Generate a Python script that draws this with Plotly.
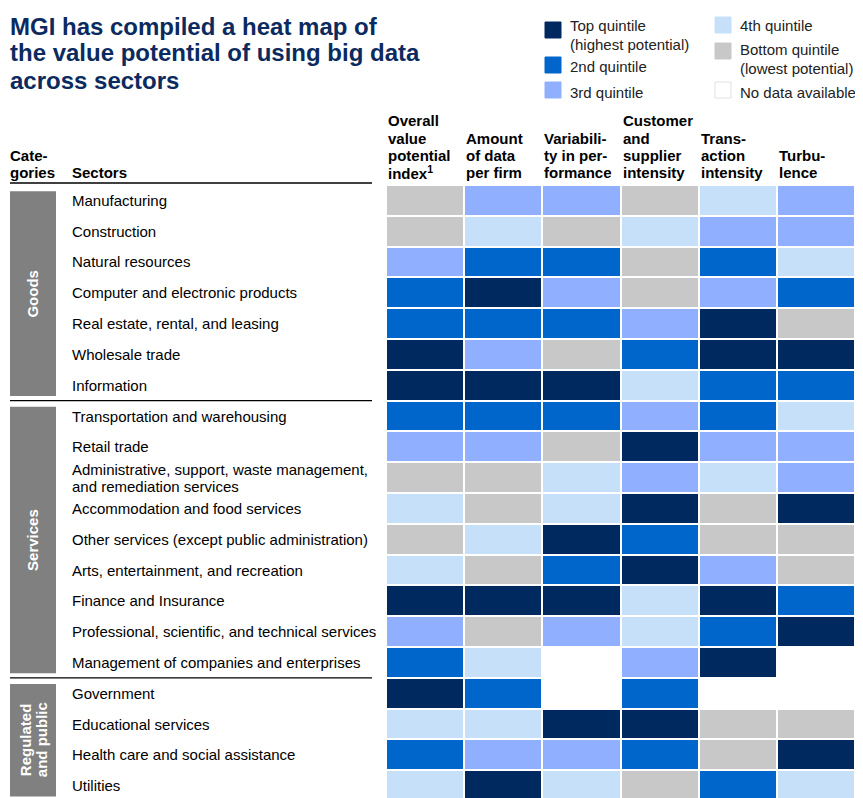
import plotly.graph_objects as go

# page is 863x798 but the browser body adds an 8px margin, so the figure is drawn 8px in;
# only x up to ~855 is visible, so the right edge is kept inside that
W, H = 847, 790
OFF = 8

sectors = [
    "Manufacturing", "Construction", "Natural resources",
    "Computer and electronic products", "Real estate, rental, and leasing",
    "Wholesale trade", "Information",
    "Transportation and warehousing", "Retail trade",
    "Administrative, support, waste management,<br>and remediation services",
    "Accommodation and food services",
    "Other services (except public administration)",
    "Arts, entertainment, and recreation", "Finance and Insurance",
    "Professional, scientific, and technical services",
    "Management of companies and enterprises",
    "Government", "Educational services",
    "Health care and social assistance", "Utilities",
]
categories = ["Goods", "Services", "Regulated<br>and public"]
category_sizes = [7, 9, 4]

columns = [
    "Overall value potential index", "Amount of data per firm",
    "Variability in performance", "Customer and supplier intensity",
    "Transaction intensity", "Turbulence",
]
column_headers = [
    "Overall<br>value<br>potential<br>index<sup style='font-size:9px'>1</sup>",
    "Amount<br>of data<br>per firm",
    "Variabili-<br>ty in per-<br>formance",
    "Customer<br>and<br>supplier<br>intensity",
    "Trans-<br>action<br>intensity",
    "Turbu-<br>lence",
]

# quintile per sector: 1 = top ... 5 = bottom, None = no data
overall_index = [5, 5, 3, 2, 2, 1, 1, 2, 3, 5, 4, 5, 4, 1, 3, 2, 1, 4, 2, 4]
data_per_firm = [3, 4, 2, 1, 2, 3, 1, 2, 3, 5, 5, 4, 5, 1, 5, 4, 2, 4, 3, 1]
variability = [3, 5, 2, 3, 2, 5, 1, 2, 5, 4, 4, 1, 2, 1, 3, None, None, 1, 3, 4]
customer_supplier = [5, 4, 5, 5, 3, 2, 4, 3, 1, 3, 1, 2, 1, 4, 4, 3, 2, 1, 2, 5]
transaction = [4, 3, 2, 3, 1, 1, 2, 2, 3, 4, 5, 5, 3, 1, 2, 1, None, 5, 5, 2]
turbulence = [3, 3, 4, 2, 5, 1, 2, 4, 3, 3, 1, 5, 5, 2, 1, None, None, 5, 1, 4]

quintile_labels = ["Top quintile<br>(highest potential)", "2nd quintile", "3rd quintile",
                   "4th quintile", "Bottom quintile<br>(lowest potential)", "No data available"]
quintile_colors = ["#002960", "#0066CC", "#91AFFF", "#C6E0FA", "#C8C8C8", "#FFFFFF"]

title_lines = ["MGI has compiled a heat map of",
               "the value potential of using big data",
               "across sectors"]

NAVY = "#0B2A5E"
FONT = "Liberation Sans, Arial, sans-serif"
ROW_PX = 30.8


def px(x):
    return (x - OFF) / W


def py(y):
    return 1 - (y - OFF) / H


z = [list(r) for r in zip(overall_index, data_per_firm, variability,
                          customer_supplier, transaction, turbulence)]

colorscale = []
edges = [0, 0.125, 0.375, 0.625, 0.875, 1]
for i in range(5):
    colorscale.append([edges[i], quintile_colors[i]])
    colorscale.append([edges[i + 1], quintile_colors[i]])

fig = go.Figure(go.Heatmap(
    z=z, x=columns, y=sectors,
    zmin=1, zmax=5, colorscale=colorscale, showscale=False,
    xgap=2, ygap=2, hoverinfo="skip",
))

annotations = []
shapes = []


def text(x, y, s, size=15, color="#000", xref="paper", yref="paper", **kw):
    d = dict(xref=xref, yref=yref, x=x, y=y, text=s, xanchor="left", yanchor="middle",
             align="left", showarrow=False, font=dict(size=size, color=color, family=FONT))
    d.update(kw)
    annotations.append(d)


# title, one line at a time for tight spacing
for k, line in enumerate(title_lines):
    text(px(8), py(26 + 27 * k), "<b>%s</b>" % line, size=24, color=NAVY)

# sector labels (two-line label gets its own line spacing)
for i, s in enumerate(sectors):
    parts = s.split("<br>")
    for k, p in enumerate(parts):
        text(px(70), i + (k - (len(parts) - 1) / 2) * 0.55, p, yref="y")

# column headers, bottom-aligned
for j, h in enumerate(column_headers):
    parts = h.split("<br>")
    for k, p in enumerate(reversed(parts)):
        text(j - 0.5, py(172 - 17 * k), "<b>%s</b>" % p, xref="x")

text(px(8), py(155), "<b>Cate-</b>")
text(px(8), py(172), "<b>gories</b>")
text(px(70), py(172), "<b>Sectors</b>")

# header rule
shapes.append(dict(type="line", xref="paper", yref="paper", x0=px(10), x1=px(372),
                   y0=py(183), y1=py(183), line=dict(color="#000", width=1.3)))

# category boxes + separators
start = 0
for k, (cat, n) in enumerate(zip(categories, category_sizes)):
    top = start - 0.5 + 0.2
    bot = start + n - 0.5 - 0.15
    shapes.append(dict(type="rect", xref="paper", yref="y", x0=px(10), x1=px(56),
                       y0=top, y1=bot, fillcolor="#808080", line=dict(width=0), layer="below"))
    mid = (top + min(bot, 19.4)) / 2
    parts = cat.split("<br>")
    for m, p in enumerate(parts):
        xc = 33 + (m - (len(parts) - 1) / 2) * 16
        annotations.append(dict(xref="paper", yref="y", x=px(xc), y=mid,
                                text="<b>%s</b>" % p, textangle=-90, showarrow=False,
                                xanchor="center", yanchor="middle",
                                font=dict(size=15, color="white", family=FONT)))
    if k > 0:
        shapes.append(dict(type="line", xref="paper", yref="y", x0=px(10), x1=px(372),
                           y0=start - 0.5, y1=start - 0.5, line=dict(color="#000", width=1.3)))
    start += n

# legend
legend_pos = [(545, 30, [25, 44]), (545, 65, [67]), (545, 90, [92]),
              (715, 25, [25]), (715, 51, [50, 69]), (715, 90, [92])]
for (lx, cy, text_ys), lab, col in zip(legend_pos, quintile_labels, quintile_colors):
    shapes.append(dict(type="rect", xref="paper", yref="paper",
                       x0=px(lx), x1=px(lx + 16), y0=py(cy - 8), y1=py(cy + 8),
                       fillcolor=col, line=dict(color="#E0E0E0" if col == "#FFFFFF" else col, width=1)))
    for line, ty in zip(lab.split("<br>"), text_ys):
        text(px(lx + 23), py(ty), line, color="#222")

fig.update_layout(
    width=W, height=H,
    margin=dict(l=0, r=0, t=0, b=0),
    paper_bgcolor="white", plot_bgcolor="white",
    font=dict(family=FONT, size=15, color="#000"),
    xaxis=dict(domain=[px(386), 1], range=[-0.5, 5.5], showticklabels=False,
               showgrid=False, zeroline=False, fixedrange=True),
    yaxis=dict(domain=[0, py(185)], range=[-0.5 + (OFF + H - 185) / ROW_PX, -0.5],
               showticklabels=False, showgrid=False, zeroline=False, fixedrange=True),
    annotations=annotations,
    shapes=shapes,
)

fig.write_html("out.html")
